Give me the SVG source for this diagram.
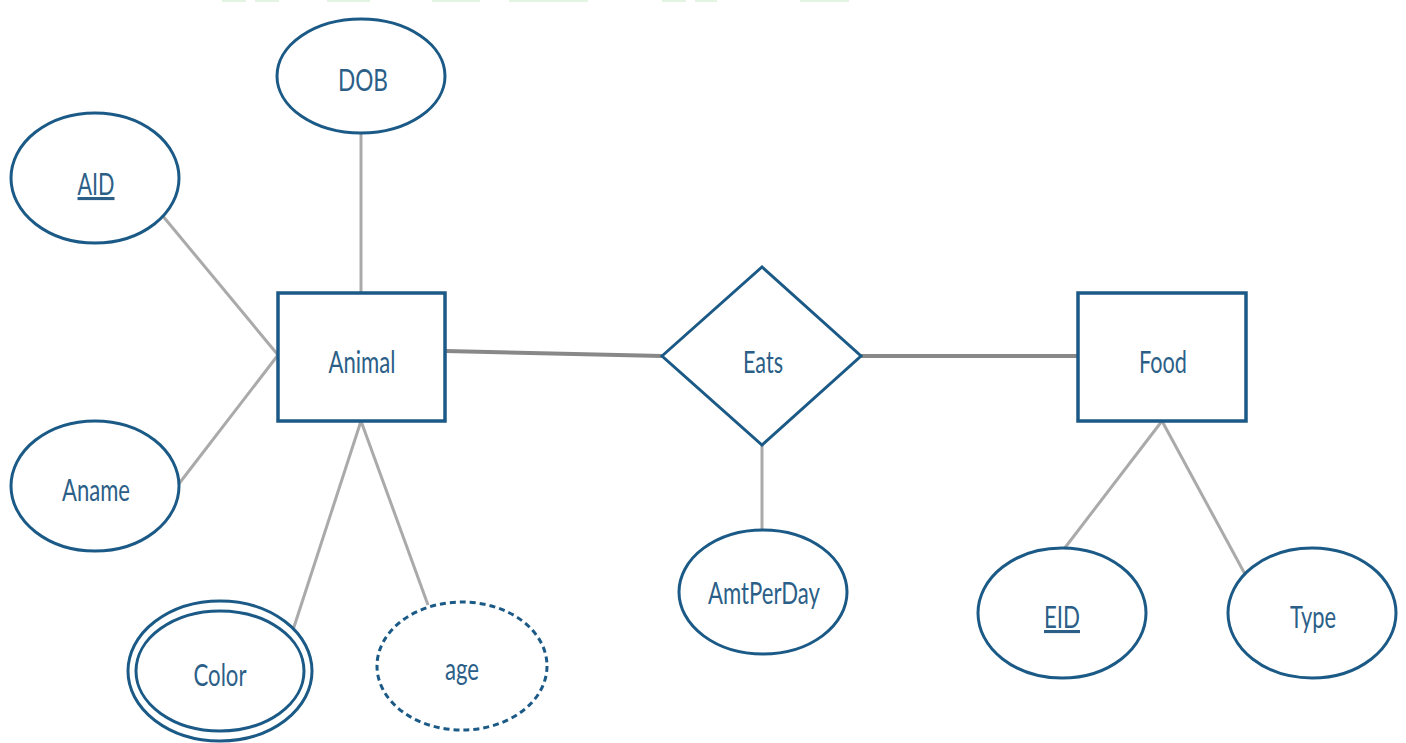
<svg xmlns="http://www.w3.org/2000/svg" width="1406" height="743" viewBox="0 0 1406 743">
<style>
.shape{fill:#fff;stroke:#1b5a86;stroke-width:3}
.box{fill:#fff;stroke:#1b5a86;stroke-width:3.5}
.dash{fill:#fff;stroke:#1b5a86;stroke-width:3;stroke-dasharray:6 4}
.lbl{font-family:Lato,"Open Sans","Liberation Sans",sans-serif;font-size:31px;fill:#2c5f88;text-anchor:middle}
.conn{stroke:#aaaaaa;stroke-width:3;fill:none}
.rel{stroke:#888888;stroke-width:4;fill:none}
.bg{fill:#e3f4e3}
</style>
<rect width="1406" height="743" fill="#fff"/>
<g id="artifacts">
<rect class="bg" x="222" y="0" width="24" height="2"/>
<rect class="bg" x="255" y="0" width="24" height="2"/>
<rect class="bg" x="327" y="0" width="43" height="2"/>
<rect class="bg" x="432" y="0" width="48" height="2"/>
<rect class="bg" x="509" y="0" width="79" height="2"/>
<rect class="bg" x="662" y="0" width="24" height="2"/>
<rect class="bg" x="695" y="0" width="22" height="2"/>
<rect class="bg" x="800" y="0" width="49" height="2"/>
</g>
<g id="connectors">
<line class="conn" x1="361" y1="133" x2="361" y2="293"/>
<line class="conn" x1="162" y1="215" x2="278" y2="355"/>
<line class="conn" x1="178" y1="485" x2="278" y2="355"/>
<line class="conn" x1="361" y1="421" x2="293" y2="630"/>
<line class="conn" x1="361" y1="421" x2="428" y2="605"/>
<line class="rel" x1="445" y1="351" x2="662" y2="356"/>
<line class="rel" x1="861" y1="356" x2="1078" y2="356"/>
<line class="conn" x1="762" y1="445" x2="762" y2="529"/>
<line class="conn" x1="1162" y1="421" x2="1064" y2="549"/>
<line class="conn" x1="1162" y1="421" x2="1246" y2="576"/>
</g>
<g id="DOB">
<ellipse class="shape" cx="361" cy="76" rx="84" ry="57"/>
<text class="lbl" x="363" y="91" textLength="50" lengthAdjust="spacingAndGlyphs">DOB</text>
</g>
<g id="AID">
<ellipse class="shape" cx="95" cy="178" rx="84" ry="65"/>
<text class="lbl" x="96" y="195" textLength="37" lengthAdjust="spacingAndGlyphs" text-decoration="underline">AID</text>
</g>
<g id="Animal">
<rect class="box" x="278" y="293" width="167" height="128"/>
<text class="lbl" x="362" y="373" textLength="67" lengthAdjust="spacingAndGlyphs">Animal</text>
</g>
<g id="Aname">
<ellipse class="shape" cx="95" cy="486" rx="84" ry="65"/>
<text class="lbl" x="96" y="501" textLength="68" lengthAdjust="spacingAndGlyphs">Aname</text>
</g>
<g id="Color">
<ellipse class="shape" cx="220" cy="671" rx="92" ry="70"/>
<ellipse class="shape" cx="220" cy="671" rx="84" ry="60"/>
<text class="lbl" x="220" y="686" textLength="53" lengthAdjust="spacingAndGlyphs">Color</text>
</g>
<g id="age">
<ellipse class="dash" cx="462" cy="666" rx="85" ry="64"/>
<text class="lbl" x="462" y="680" textLength="34" lengthAdjust="spacingAndGlyphs">age</text>
</g>
<g id="Eats">
<polygon class="shape" points="662,356 762,267 861,356 762,445"/>
<text class="lbl" x="763" y="373" textLength="40" lengthAdjust="spacingAndGlyphs">Eats</text>
</g>
<g id="AmtPerDay">
<ellipse class="shape" cx="763" cy="592" rx="84" ry="62"/>
<text class="lbl" x="764" y="604" textLength="112" lengthAdjust="spacingAndGlyphs">AmtPerDay</text>
</g>
<g id="Food">
<rect class="box" x="1078" y="293" width="168" height="128"/>
<text class="lbl" x="1163" y="373" textLength="48" lengthAdjust="spacingAndGlyphs">Food</text>
</g>
<g id="EID">
<ellipse class="shape" cx="1062" cy="613" rx="84" ry="65"/>
<text class="lbl" x="1062" y="628" textLength="36" lengthAdjust="spacingAndGlyphs" text-decoration="underline">EID</text>
</g>
<g id="Type">
<ellipse class="shape" cx="1312" cy="613" rx="84" ry="65"/>
<text class="lbl" x="1313" y="628" textLength="46" lengthAdjust="spacingAndGlyphs">Type</text>
</g>
</svg>
